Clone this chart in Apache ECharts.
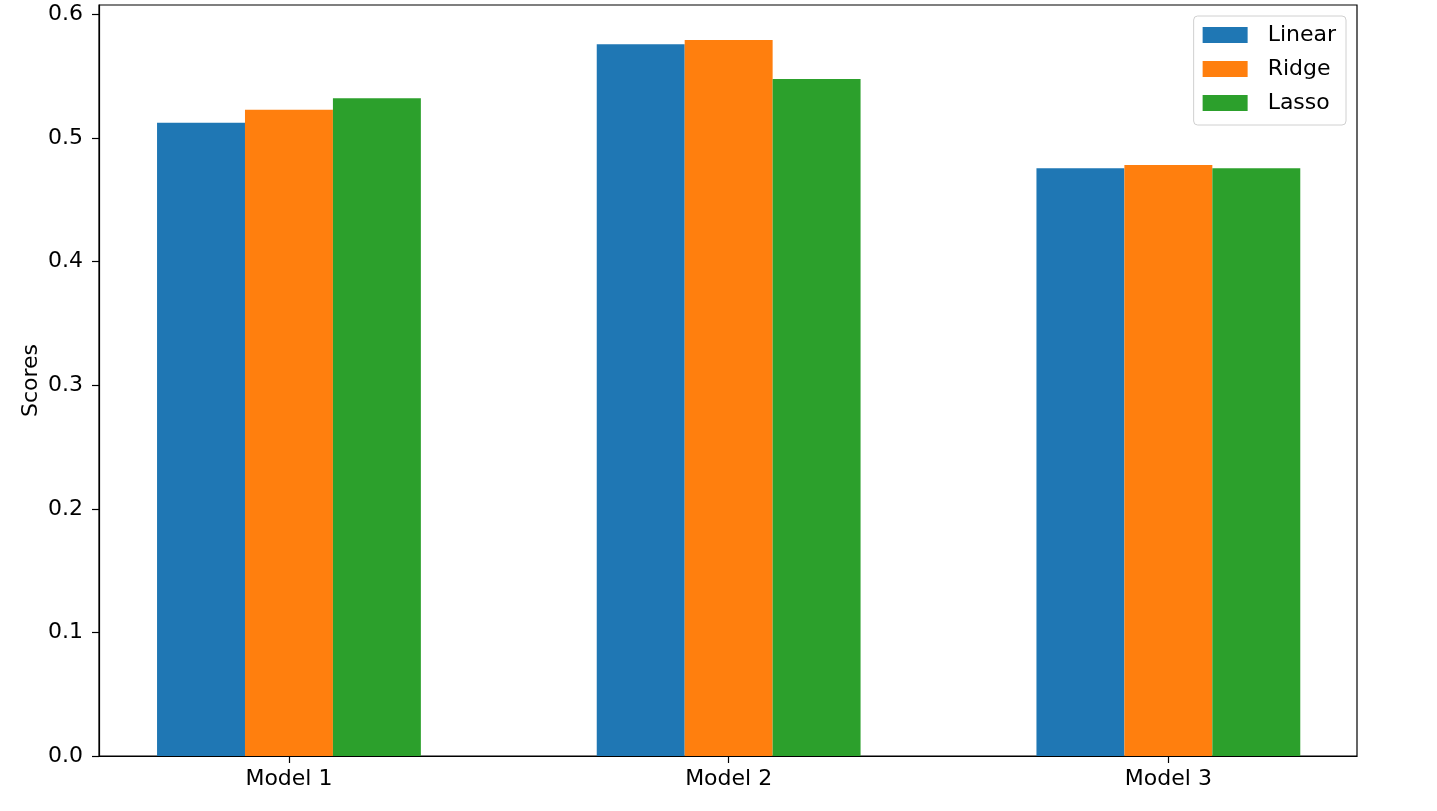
<!DOCTYPE html>
<html>
<head>
<meta charset="utf-8">
<script src="https://cdn.jsdelivr.net/npm/echarts@6/dist/echarts.min.js"></script>
<style>
html,body{margin:0;padding:0;background:#fff;}
#chart{width:1437px;height:811px;}
</style>
</head>
<body>
<div id="chart"></div>
<script>
const categories = ['Model 1', 'Model 2', 'Model 3'];
const seriesNames = ['Linear', 'Ridge', 'Lasso'];
const linearScores = [0.5124, 0.5759, 0.4755];
const ridgeScores = [0.5230, 0.5794, 0.4782];
const lassoScores = [0.5322, 0.5478, 0.4755];
const yTicks = [0.0, 0.1, 0.2, 0.3, 0.4, 0.5, 0.6];
const colors = ['#1f77b4', '#ff7f0e', '#2ca02c'];

const allScores = [linearScores, ridgeScores, lassoScores];
const FONT = 'DejaVu Sans';
const FS = 22;

const chart = echarts.init(document.getElementById('chart'), null, {renderer: 'canvas'});
chart.setOption({
  animation: false,
  backgroundColor: '#fff',
  textStyle: {fontFamily: FONT},
  grid: {left: 99, right: 80, top: 5, bottom: 55, show: true, borderColor: '#000', borderWidth: 1.2, containLabel: false},
  legend: {
    orient: 'vertical', right: 91, top: 16,
    data: seriesNames,
    icon: 'rect', itemWidth: 45, itemHeight: 16, itemGap: 12,
    backgroundColor: '#fff', borderColor: '#d0d0d0', borderWidth: 1, borderRadius: 4,
    padding: [8, 10, 11, 9],
    textStyle: {fontFamily: FONT, fontSize: FS, color: '#000', padding: [0, 0, 0, 15]}
  },
  xAxis: {
    type: 'value', min: -0.432, max: 2.429,
    splitLine: {show: false},
    axisLine: {show: true, onZero: false, lineStyle: {color: '#000', width: 1.2}},
    axisTick: {show: true, length: 7, lineStyle: {color: '#000', width: 1.2}, customValues: [0, 1, 2]},
    axisLabel: {
      customValues: [0, 1, 2], margin: 12, color: '#000', fontFamily: FONT, fontSize: FS,
      formatter: v => categories[Math.round(v)] || ''
    }
  },
  yAxis: {
    type: 'value', min: 0, max: 0.6077,
    name: 'Scores', nameLocation: 'middle', nameRotate: 90, nameGap: 57, nameMoveOverlap: false,
    nameTextStyle: {fontFamily: FONT, fontSize: FS, color: '#000'},
    splitLine: {show: false},
    axisLine: {show: true, onZero: false, lineStyle: {color: '#000', width: 1.2}},
    axisTick: {show: true, length: 7, lineStyle: {color: '#000', width: 1.2}, customValues: yTicks},
    axisLabel: {
      customValues: yTicks, margin: 16, color: '#000', fontFamily: FONT, fontSize: FS,
      formatter: v => v.toFixed(1)
    }
  },
  series: seriesNames.map((name, s) => ({
    name: name,
    type: 'bar',
    barWidth: '20%',
    barGap: '0%',
    itemStyle: {color: colors[s]},
    data: allScores[s].map((v, i) => [i, v])
  }))
});
</script>
</body>
</html>
